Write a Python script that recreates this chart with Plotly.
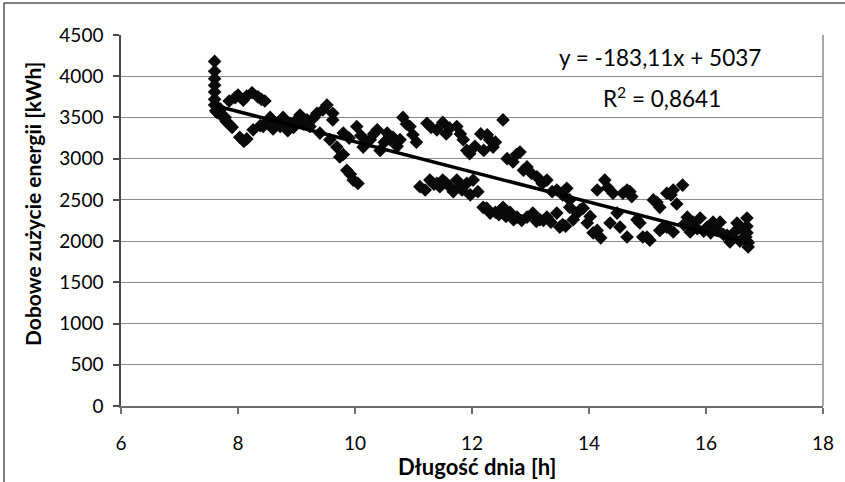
import plotly.graph_objects as go

# Day length [h]
day_length = [
    7.60, 7.60, 7.60, 7.60, 7.60, 7.60, 7.60, 7.62, 7.64, 7.64,
    7.70, 7.72, 7.78, 7.80, 7.86, 7.90,
    7.85, 7.95, 8.00, 8.09, 8.15, 8.24, 8.34, 8.40, 8.46,
    8.03, 8.10, 8.15, 8.26, 8.38, 8.43,
    8.50, 8.55, 8.60, 8.67, 8.72, 8.77, 8.85, 8.89, 8.95, 9.00, 9.06, 9.12, 9.18, 9.23,
    9.30, 9.35, 9.40, 9.45, 9.52, 9.57, 9.62, 9.62, 9.69,
    9.74, 9.80, 9.86, 9.92, 9.97, 10.05,
    9.80, 9.90, 10.03, 10.10, 10.14, 10.20, 10.26, 10.32, 10.38, 10.43, 10.50, 10.55,
    10.60, 10.65, 10.72, 10.77, 10.82, 10.88, 10.94, 10.99, 11.05,
    11.11, 11.20, 11.28, 11.35, 11.40, 11.45, 11.50, 11.56, 11.62, 11.68, 11.74, 11.80, 11.83, 11.91, 11.97, 12.02,
    11.23, 11.30, 11.40, 11.50, 11.56, 11.62, 11.74, 11.80, 11.85, 11.91, 11.96, 12.05,
    12.15, 12.20, 12.26, 12.30, 12.36, 12.40, 12.53, 12.60, 12.70, 12.76, 12.82, 12.88, 12.94,
    13.02, 13.11, 13.20, 13.28, 13.37, 13.45, 13.55, 13.62, 13.67,
    12.10, 12.19, 12.25, 12.31, 12.40, 12.46, 12.53, 12.58, 12.65, 12.71, 12.77, 12.85, 12.94,
    13.04, 13.10, 13.16, 13.22, 13.28, 13.35, 13.45, 13.50, 13.55, 13.60,
    13.67, 13.73, 13.80, 13.85, 13.90, 13.97, 14.02, 14.07, 14.14, 14.14, 14.20,
    14.27, 14.32, 14.36, 14.41, 14.48, 14.53, 14.58, 14.65, 14.65, 14.70, 14.73, 14.82, 14.87,
    14.92, 14.99, 15.04, 15.10, 15.16, 15.21, 15.21, 15.27, 15.33, 15.33, 15.40, 15.44, 15.44, 15.50, 15.60,
    15.62, 15.68, 15.73, 15.78, 15.85, 15.90, 15.96, 16.02, 16.08, 16.12, 16.18, 16.24, 16.30,
    16.36, 16.41, 16.46, 16.50, 16.53, 16.58, 16.63, 16.68, 16.70, 16.70, 16.70, 16.70, 16.72, 16.72,
]

# Daily energy consumption [kWh]
energy = [
    4180, 4060, 3970, 3890, 3810, 3720, 3650, 3580, 3630, 3560,
    3600, 3520, 3500, 3450, 3410, 3380,
    3700, 3740, 3770, 3710, 3760, 3800, 3750, 3720, 3700,
    3260, 3210, 3240, 3350, 3400, 3390,
    3450, 3500, 3360, 3430, 3390, 3500, 3340, 3430, 3380, 3470, 3530, 3420, 3470, 3390,
    3500, 3550, 3310, 3590, 3650, 3230, 3550, 3470, 3140,
    3020, 3050, 2860, 2810, 2740, 2700,
    3310, 3250, 3390, 3280, 3140, 3200, 3230, 3300, 3350, 3100, 3200, 3310,
    3230, 3260, 3150, 3230, 3500, 3420, 3390, 3290, 3200,
    2660, 2620, 2740, 2690, 2700, 2660, 2740, 2700, 2660, 2600, 2740, 2660, 2620, 2700, 2560, 2740,
    3430, 3380, 3350, 3440, 3300, 3370, 3390, 3300, 3230, 3100, 3060, 3150,
    3300, 3100, 3290, 3230, 3140, 3200, 3470, 3000, 2960, 3050, 3080, 2860, 2900,
    2820, 2780, 2700, 2740, 2600, 2620, 2560, 2640, 2500,
    2600, 2410, 2400, 2340, 2350, 2320, 2410, 2300, 2350, 2260, 2290, 2250, 2290,
    2340, 2240, 2260, 2250, 2290, 2230, 2340, 2170, 2200, 2180,
    2410, 2260, 2340, 2380, 2400, 2220, 2300, 2100, 2620, 2130, 2040,
    2740, 2650, 2220, 2580, 2340, 2170, 2580, 2620, 2050, 2600, 2540, 2260, 2220,
    2050, 2050, 2010, 2500, 2470, 2410, 2130, 2170, 2580, 2170, 2560, 2620, 2110, 2450, 2680,
    2200, 2290, 2110, 2230, 2150, 2280, 2120, 2170, 2100, 2230, 2150, 2230, 2080,
    2070, 1990, 2040, 2120, 2220, 2000, 2130, 2050, 2280, 2180, 2100, 2000, 1980, 1930,
]

# Linear trend line coefficients (as printed on the chart)
trend_slope = -183.11
trend_intercept = 5037
trend_x = [min(day_length), max(day_length)]
trend_y = [trend_slope * x + trend_intercept for x in trend_x]

x_ticks = [6, 8, 10, 12, 14, 16, 18]
y_ticks = [0, 500, 1000, 1500, 2000, 2500, 3000, 3500, 4000, 4500]

FONT = "Lato"

fig = go.Figure()
fig.add_trace(go.Scatter(
    x=day_length, y=energy, mode="markers",
    marker=dict(symbol="diamond", size=10.5, color="#0a0a0a", line=dict(width=0)),
    showlegend=False, hoverinfo="skip",
))
fig.add_trace(go.Scatter(
    x=trend_x, y=trend_y, mode="lines",
    line=dict(color="#000000", width=3.5),
    showlegend=False, hoverinfo="skip",
))

fig.update_layout(
    width=845, height=482,
    margin=dict(l=121, r=22, t=35, b=76),
    paper_bgcolor="white", plot_bgcolor="white",
    font=dict(family=FONT, size=19, color="#000000"),
    xaxis=dict(
        range=[6, 18], tickvals=x_ticks, ticktext=[str(v) for v in x_ticks],
        showgrid=False, zeroline=False,
        showline=True, linecolor="#6e6e6e", linewidth=1.5,
        ticks="outside", ticklen=6, tickcolor="#6e6e6e", tickwidth=1.5,
        ticklabelstandoff=13,
        tickfont=dict(family=FONT, size=19),
    ),
    yaxis=dict(
        range=[0, 4500], tickvals=y_ticks, ticktext=[str(v) for v in y_ticks],
        showgrid=True, gridcolor="#8a8a8a", gridwidth=1.2,
        zeroline=False,
        showline=True, linecolor="#4a4a4a", linewidth=1.5,
        ticks="outside", ticklen=6, tickcolor="#4a4a4a", tickwidth=1.5,
        ticklabelstandoff=6,
        tickfont=dict(family=FONT, size=19),
    ),
    annotations=[
        dict(text="<b>Długość dnia [h]</b>", xref="paper", yref="paper",
             x=(477 - 121) / 702, y=(406 - 466) / 371, showarrow=False,
             font=dict(family=FONT, size=22), xanchor="center", yanchor="middle"),
        dict(text="<b>Dobowe zużycie energii [kWh]</b>", xref="paper", yref="paper",
             x=(33 - 121) / 702, y=(406 - 204) / 371, showarrow=False, textangle=-90,
             font=dict(family=FONT, size=21), xanchor="center", yanchor="middle"),
        dict(text="y = -183,11x + 5037", xref="paper", yref="paper",
             x=(660 - 121) / 702, y=(406 - 58) / 371, showarrow=False,
             font=dict(family=FONT, size=22.5), xanchor="center", yanchor="middle"),
        dict(text="R<sup>2</sup> = 0,8641", xref="paper", yref="paper",
             x=(662 - 121) / 702, y=(406 - 97) / 371, showarrow=False,
             font=dict(family=FONT, size=22.5), xanchor="center", yanchor="middle"),
    ],
    shapes=[
        dict(type="line", xref="paper", yref="paper", x0=1, x1=1, y0=0, y1=1,
             line=dict(color="#8a8a8a", width=1.5)),
        dict(type="line", xref="paper", yref="paper",
             x0=(4 - 121) / 702, x1=(4 - 121) / 702, y0=(406 - 482) / 371, y1=(406 - 3) / 371,
             line=dict(color="#000000", width=1)),
        dict(type="line", xref="paper", yref="paper",
             x0=(4 - 121) / 702, x1=(845 - 121) / 702, y0=(406 - 3) / 371, y1=(406 - 3) / 371,
             line=dict(color="#000000", width=1)),
    ],
)

fig.write_html(
    "out.html",
    config={"displayModeBar": False},
    post_script="document.body.style.margin='0px';document.body.style.padding='0px';",
)
